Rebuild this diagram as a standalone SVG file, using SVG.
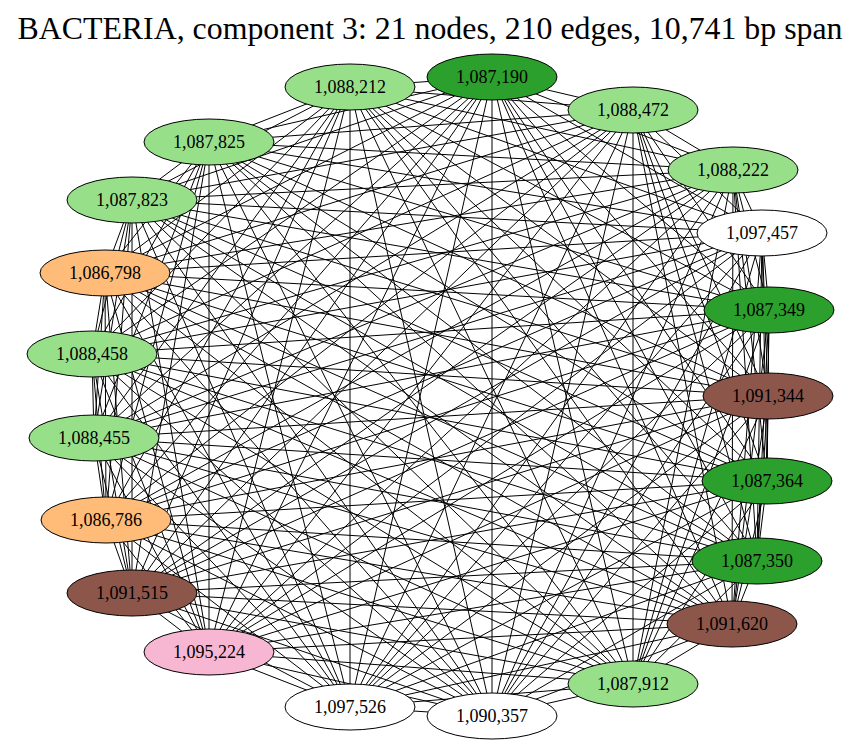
<svg xmlns="http://www.w3.org/2000/svg" width="861" height="746" viewBox="0 0 861 746">
<style>
.e line{stroke:#000;stroke-width:1}
.n ellipse{stroke:#000;stroke-width:1}
.n text{font-family:"Liberation Serif","Times New Roman",serif;font-size:18px;text-anchor:middle;fill:#000}
.lg{fill:#98df8a}.dg{fill:#2ca02c}.or{fill:#ffbb78}.br{fill:#8c564b}.pk{fill:#f7b6d2}.wh{fill:#fff}
.title{font-family:"Liberation Serif","Times New Roman",serif;font-size:31.5px;text-anchor:middle;fill:#000}
</style>
<rect width="861" height="746" fill="#fff"/>
<text class="title" x="430" y="39" textLength="825" lengthAdjust="spacingAndGlyphs">BACTERIA, component 3: 21 nodes, 210 edges, 10,741 bp span</text>
<g id="edges" class="e">
<line x1="350" y1="87" x2="492" y2="77"/><line x1="350" y1="87" x2="633" y2="110"/><line x1="350" y1="87" x2="733" y2="170"/><line x1="350" y1="87" x2="762" y2="233"/><line x1="350" y1="87" x2="769" y2="310"/><line x1="350" y1="87" x2="768" y2="396"/><line x1="350" y1="87" x2="767" y2="481"/><line x1="350" y1="87" x2="757" y2="561"/><line x1="350" y1="87" x2="732" y2="624"/><line x1="350" y1="87" x2="633" y2="684"/><line x1="350" y1="87" x2="492" y2="716"/><line x1="350" y1="87" x2="350" y2="707"/><line x1="350" y1="87" x2="209" y2="652"/><line x1="350" y1="87" x2="132" y2="593"/><line x1="350" y1="87" x2="106" y2="520"/><line x1="350" y1="87" x2="94" y2="438"/><line x1="350" y1="87" x2="92" y2="354"/><line x1="350" y1="87" x2="105" y2="273"/><line x1="350" y1="87" x2="132" y2="200"/><line x1="350" y1="87" x2="209" y2="142"/>
<line x1="492" y1="77" x2="633" y2="110"/><line x1="492" y1="77" x2="733" y2="170"/><line x1="492" y1="77" x2="762" y2="233"/><line x1="492" y1="77" x2="769" y2="310"/><line x1="492" y1="77" x2="768" y2="396"/><line x1="492" y1="77" x2="767" y2="481"/><line x1="492" y1="77" x2="757" y2="561"/><line x1="492" y1="77" x2="732" y2="624"/><line x1="492" y1="77" x2="633" y2="684"/><line x1="492" y1="77" x2="492" y2="716"/><line x1="492" y1="77" x2="350" y2="707"/><line x1="492" y1="77" x2="209" y2="652"/><line x1="492" y1="77" x2="132" y2="593"/><line x1="492" y1="77" x2="106" y2="520"/><line x1="492" y1="77" x2="94" y2="438"/><line x1="492" y1="77" x2="92" y2="354"/><line x1="492" y1="77" x2="105" y2="273"/><line x1="492" y1="77" x2="132" y2="200"/><line x1="492" y1="77" x2="209" y2="142"/>
<line x1="633" y1="110" x2="733" y2="170"/><line x1="633" y1="110" x2="762" y2="233"/><line x1="633" y1="110" x2="769" y2="310"/><line x1="633" y1="110" x2="768" y2="396"/><line x1="633" y1="110" x2="767" y2="481"/><line x1="633" y1="110" x2="757" y2="561"/><line x1="633" y1="110" x2="732" y2="624"/><line x1="633" y1="110" x2="633" y2="684"/><line x1="633" y1="110" x2="492" y2="716"/><line x1="633" y1="110" x2="350" y2="707"/><line x1="633" y1="110" x2="209" y2="652"/><line x1="633" y1="110" x2="132" y2="593"/><line x1="633" y1="110" x2="106" y2="520"/><line x1="633" y1="110" x2="94" y2="438"/><line x1="633" y1="110" x2="92" y2="354"/><line x1="633" y1="110" x2="105" y2="273"/><line x1="633" y1="110" x2="132" y2="200"/><line x1="633" y1="110" x2="209" y2="142"/>
<line x1="733" y1="170" x2="762" y2="233"/><line x1="733" y1="170" x2="769" y2="310"/><line x1="733" y1="170" x2="768" y2="396"/><line x1="733" y1="170" x2="767" y2="481"/><line x1="733" y1="170" x2="757" y2="561"/><line x1="733" y1="170" x2="732" y2="624"/><line x1="733" y1="170" x2="633" y2="684"/><line x1="733" y1="170" x2="492" y2="716"/><line x1="733" y1="170" x2="350" y2="707"/><line x1="733" y1="170" x2="209" y2="652"/><line x1="733" y1="170" x2="132" y2="593"/><line x1="733" y1="170" x2="106" y2="520"/><line x1="733" y1="170" x2="94" y2="438"/><line x1="733" y1="170" x2="92" y2="354"/><line x1="733" y1="170" x2="105" y2="273"/><line x1="733" y1="170" x2="132" y2="200"/><line x1="733" y1="170" x2="209" y2="142"/>
<line x1="762" y1="233" x2="769" y2="310"/><line x1="762" y1="233" x2="768" y2="396"/><line x1="762" y1="233" x2="767" y2="481"/><line x1="762" y1="233" x2="757" y2="561"/><line x1="762" y1="233" x2="732" y2="624"/><line x1="762" y1="233" x2="633" y2="684"/><line x1="762" y1="233" x2="492" y2="716"/><line x1="762" y1="233" x2="350" y2="707"/><line x1="762" y1="233" x2="209" y2="652"/><line x1="762" y1="233" x2="132" y2="593"/><line x1="762" y1="233" x2="106" y2="520"/><line x1="762" y1="233" x2="94" y2="438"/><line x1="762" y1="233" x2="92" y2="354"/><line x1="762" y1="233" x2="105" y2="273"/><line x1="762" y1="233" x2="132" y2="200"/><line x1="762" y1="233" x2="209" y2="142"/>
<line x1="769" y1="310" x2="768" y2="396"/><line x1="769" y1="310" x2="767" y2="481"/><line x1="769" y1="310" x2="757" y2="561"/><line x1="769" y1="310" x2="732" y2="624"/><line x1="769" y1="310" x2="633" y2="684"/><line x1="769" y1="310" x2="492" y2="716"/><line x1="769" y1="310" x2="350" y2="707"/><line x1="769" y1="310" x2="209" y2="652"/><line x1="769" y1="310" x2="132" y2="593"/><line x1="769" y1="310" x2="106" y2="520"/><line x1="769" y1="310" x2="94" y2="438"/><line x1="769" y1="310" x2="92" y2="354"/><line x1="769" y1="310" x2="105" y2="273"/><line x1="769" y1="310" x2="132" y2="200"/><line x1="769" y1="310" x2="209" y2="142"/>
<line x1="768" y1="396" x2="767" y2="481"/><line x1="768" y1="396" x2="757" y2="561"/><line x1="768" y1="396" x2="732" y2="624"/><line x1="768" y1="396" x2="633" y2="684"/><line x1="768" y1="396" x2="492" y2="716"/><line x1="768" y1="396" x2="350" y2="707"/><line x1="768" y1="396" x2="209" y2="652"/><line x1="768" y1="396" x2="132" y2="593"/><line x1="768" y1="396" x2="106" y2="520"/><line x1="768" y1="396" x2="94" y2="438"/><line x1="768" y1="396" x2="92" y2="354"/><line x1="768" y1="396" x2="105" y2="273"/><line x1="768" y1="396" x2="132" y2="200"/><line x1="768" y1="396" x2="209" y2="142"/>
<line x1="767" y1="481" x2="757" y2="561"/><line x1="767" y1="481" x2="732" y2="624"/><line x1="767" y1="481" x2="633" y2="684"/><line x1="767" y1="481" x2="492" y2="716"/><line x1="767" y1="481" x2="350" y2="707"/><line x1="767" y1="481" x2="209" y2="652"/><line x1="767" y1="481" x2="132" y2="593"/><line x1="767" y1="481" x2="106" y2="520"/><line x1="767" y1="481" x2="94" y2="438"/><line x1="767" y1="481" x2="92" y2="354"/><line x1="767" y1="481" x2="105" y2="273"/><line x1="767" y1="481" x2="132" y2="200"/><line x1="767" y1="481" x2="209" y2="142"/>
<line x1="757" y1="561" x2="732" y2="624"/><line x1="757" y1="561" x2="633" y2="684"/><line x1="757" y1="561" x2="492" y2="716"/><line x1="757" y1="561" x2="350" y2="707"/><line x1="757" y1="561" x2="209" y2="652"/><line x1="757" y1="561" x2="132" y2="593"/><line x1="757" y1="561" x2="106" y2="520"/><line x1="757" y1="561" x2="94" y2="438"/><line x1="757" y1="561" x2="92" y2="354"/><line x1="757" y1="561" x2="105" y2="273"/><line x1="757" y1="561" x2="132" y2="200"/><line x1="757" y1="561" x2="209" y2="142"/>
<line x1="732" y1="624" x2="633" y2="684"/><line x1="732" y1="624" x2="492" y2="716"/><line x1="732" y1="624" x2="350" y2="707"/><line x1="732" y1="624" x2="209" y2="652"/><line x1="732" y1="624" x2="132" y2="593"/><line x1="732" y1="624" x2="106" y2="520"/><line x1="732" y1="624" x2="94" y2="438"/><line x1="732" y1="624" x2="92" y2="354"/><line x1="732" y1="624" x2="105" y2="273"/><line x1="732" y1="624" x2="132" y2="200"/><line x1="732" y1="624" x2="209" y2="142"/>
<line x1="633" y1="684" x2="492" y2="716"/><line x1="633" y1="684" x2="350" y2="707"/><line x1="633" y1="684" x2="209" y2="652"/><line x1="633" y1="684" x2="132" y2="593"/><line x1="633" y1="684" x2="106" y2="520"/><line x1="633" y1="684" x2="94" y2="438"/><line x1="633" y1="684" x2="92" y2="354"/><line x1="633" y1="684" x2="105" y2="273"/><line x1="633" y1="684" x2="132" y2="200"/><line x1="633" y1="684" x2="209" y2="142"/>
<line x1="492" y1="716" x2="350" y2="707"/><line x1="492" y1="716" x2="209" y2="652"/><line x1="492" y1="716" x2="132" y2="593"/><line x1="492" y1="716" x2="106" y2="520"/><line x1="492" y1="716" x2="94" y2="438"/><line x1="492" y1="716" x2="92" y2="354"/><line x1="492" y1="716" x2="105" y2="273"/><line x1="492" y1="716" x2="132" y2="200"/><line x1="492" y1="716" x2="209" y2="142"/>
<line x1="350" y1="707" x2="209" y2="652"/><line x1="350" y1="707" x2="132" y2="593"/><line x1="350" y1="707" x2="106" y2="520"/><line x1="350" y1="707" x2="94" y2="438"/><line x1="350" y1="707" x2="92" y2="354"/><line x1="350" y1="707" x2="105" y2="273"/><line x1="350" y1="707" x2="132" y2="200"/><line x1="350" y1="707" x2="209" y2="142"/>
<line x1="209" y1="652" x2="132" y2="593"/><line x1="209" y1="652" x2="106" y2="520"/><line x1="209" y1="652" x2="94" y2="438"/><line x1="209" y1="652" x2="92" y2="354"/><line x1="209" y1="652" x2="105" y2="273"/><line x1="209" y1="652" x2="132" y2="200"/><line x1="209" y1="652" x2="209" y2="142"/>
<line x1="132" y1="593" x2="106" y2="520"/><line x1="132" y1="593" x2="94" y2="438"/><line x1="132" y1="593" x2="92" y2="354"/><line x1="132" y1="593" x2="105" y2="273"/><line x1="132" y1="593" x2="132" y2="200"/><line x1="132" y1="593" x2="209" y2="142"/>
<line x1="106" y1="520" x2="94" y2="438"/><line x1="106" y1="520" x2="92" y2="354"/><line x1="106" y1="520" x2="105" y2="273"/><line x1="106" y1="520" x2="132" y2="200"/><line x1="106" y1="520" x2="209" y2="142"/>
<line x1="94" y1="438" x2="92" y2="354"/><line x1="94" y1="438" x2="105" y2="273"/><line x1="94" y1="438" x2="132" y2="200"/><line x1="94" y1="438" x2="209" y2="142"/>
<line x1="92" y1="354" x2="105" y2="273"/><line x1="92" y1="354" x2="132" y2="200"/><line x1="92" y1="354" x2="209" y2="142"/>
<line x1="105" y1="273" x2="132" y2="200"/><line x1="105" y1="273" x2="209" y2="142"/>
<line x1="132" y1="200" x2="209" y2="142"/>
</g>
<g id="n1088212" class="n"><ellipse class="lg" cx="350" cy="87" rx="65" ry="23"/><text x="350" y="93">1,088,212</text></g>
<g id="n1087190" class="n"><ellipse class="dg" cx="492" cy="77" rx="65" ry="23"/><text x="492" y="83">1,087,190</text></g>
<g id="n1088472" class="n"><ellipse class="lg" cx="633" cy="110" rx="65" ry="23"/><text x="633" y="116">1,088,472</text></g>
<g id="n1088222" class="n"><ellipse class="lg" cx="733" cy="170" rx="65" ry="23"/><text x="733" y="176">1,088,222</text></g>
<g id="n1097457" class="n"><ellipse class="wh" cx="762" cy="233" rx="65" ry="23"/><text x="762" y="239">1,097,457</text></g>
<g id="n1087349" class="n"><ellipse class="dg" cx="769" cy="310" rx="65" ry="23"/><text x="769" y="316">1,087,349</text></g>
<g id="n1091344" class="n"><ellipse class="br" cx="768" cy="396" rx="65" ry="23"/><text x="768" y="402">1,091,344</text></g>
<g id="n1087364" class="n"><ellipse class="dg" cx="767" cy="481" rx="65" ry="23"/><text x="767" y="487">1,087,364</text></g>
<g id="n1087350" class="n"><ellipse class="dg" cx="757" cy="561" rx="65" ry="23"/><text x="757" y="567">1,087,350</text></g>
<g id="n1091620" class="n"><ellipse class="br" cx="732" cy="624" rx="65" ry="23"/><text x="732" y="630">1,091,620</text></g>
<g id="n1087912" class="n"><ellipse class="lg" cx="633" cy="684" rx="65" ry="23"/><text x="633" y="690">1,087,912</text></g>
<g id="n1090357" class="n"><ellipse class="wh" cx="492" cy="716" rx="65" ry="23"/><text x="492" y="722">1,090,357</text></g>
<g id="n1097526" class="n"><ellipse class="wh" cx="350" cy="707" rx="65" ry="23"/><text x="350" y="713">1,097,526</text></g>
<g id="n1095224" class="n"><ellipse class="pk" cx="209" cy="652" rx="65" ry="23"/><text x="209" y="658">1,095,224</text></g>
<g id="n1091515" class="n"><ellipse class="br" cx="132" cy="593" rx="65" ry="23"/><text x="132" y="599">1,091,515</text></g>
<g id="n1086786" class="n"><ellipse class="or" cx="106" cy="520" rx="65" ry="23"/><text x="106" y="526">1,086,786</text></g>
<g id="n1088455" class="n"><ellipse class="lg" cx="94" cy="438" rx="65" ry="23"/><text x="94" y="444">1,088,455</text></g>
<g id="n1088458" class="n"><ellipse class="lg" cx="92" cy="354" rx="65" ry="23"/><text x="92" y="360">1,088,458</text></g>
<g id="n1086798" class="n"><ellipse class="or" cx="105" cy="273" rx="65" ry="23"/><text x="105" y="279">1,086,798</text></g>
<g id="n1087823" class="n"><ellipse class="lg" cx="132" cy="200" rx="65" ry="23"/><text x="132" y="206">1,087,823</text></g>
<g id="n1087825" class="n"><ellipse class="lg" cx="209" cy="142" rx="65" ry="23"/><text x="209" y="148">1,087,825</text></g>
</svg>
